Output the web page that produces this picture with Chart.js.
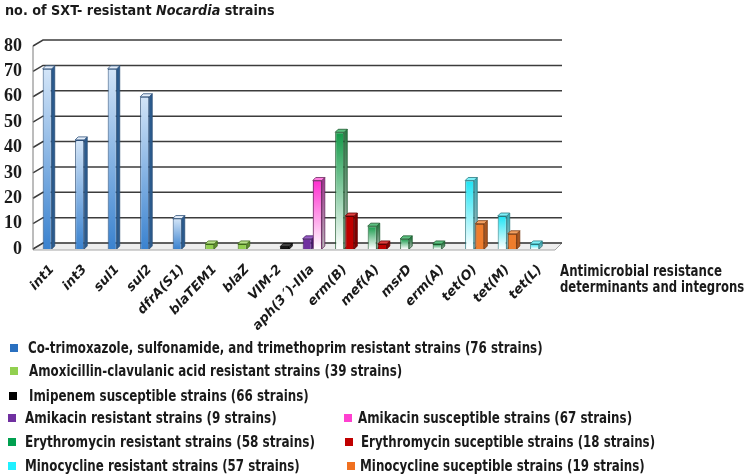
<!DOCTYPE html>
<html>
<head>
<meta charset="utf-8">
<script src="https://cdn.jsdelivr.net/npm/chart.js@4.4.1/dist/chart.umd.min.js"></script>
<style>
  body { margin: 0; background: #fff; }
  #wrap { position: relative; width: 746px; height: 476px; overflow: hidden; }
  canvas { position: absolute; left: 0; top: 0; }
  .txt { position: absolute; white-space: nowrap; font-family: "DejaVu Sans", sans-serif; font-weight: bold;
         color: #1a1a1a; line-height: 1; transform-origin: 0 50%; }
  .sq { position: absolute; width: 8px; height: 8px; }
</style>
</head>
<body>
<div id="wrap">
  <canvas id="chart" width="746" height="476"></canvas>
  <div class="txt fit" data-w="270" style="left:5px;top:10px;font-size:14px">no. of SXT- resistant <i>Nocardia</i> strains</div>
  <div class="txt fit" data-w="162" style="left:560px;top:271px;font-size:15px">Antimicrobial resistance</div>
  <div class="txt fit" data-w="184" style="left:560px;top:287px;font-size:15px">determinants and integrons</div>
  <div id="legend"></div>
</div>
<script>
// categories (x axis)
const categories = ["int1", "int3", "sul1", "sul2", "dfrA(S1)", "blaTEM1", "blaZ", "VIM-2",
  "aph(3´)-IIIa", "erm(B)", "mef(A)", "msrD", "erm(A)", "tet(O)", "tet(M)", "tet(L)"];

// no. of strains per series (null = no bar)
const cotrimoxazoleR = [71, 43, 71, 60, 12, null, null, null, null, null, null, null, null, null, null, null];
const amoxClavR      = [null, null, null, null, null, 2, 2, null, null, null, null, null, null, null, null, null];
const imipenemS      = [null, null, null, null, null, null, null, 1, null, null, null, null, null, null, null, null];
const amikacinR      = [null, null, null, null, null, null, null, null, 4, null, null, null, null, null, null, null];
const amikacinS      = [null, null, null, null, null, null, null, null, 27, null, null, null, null, null, null, null];
const erythromycinR  = [null, null, null, null, null, null, null, null, null, 46, 9, 4, 2, null, null, null];
const erythromycinS  = [null, null, null, null, null, null, null, null, null, 13, 2, null, null, null, null, null];
const minocyclineR   = [null, null, null, null, null, null, null, null, null, null, null, null, null, 27, 13, 2];
const minocyclineS   = [null, null, null, null, null, null, null, null, null, null, null, null, null, 10, 6, null];

const seriesLabels = [
  "Co-trimoxazole, sulfonamide, and trimethoprim resistant strains (76 strains)",
  "Amoxicillin-clavulanic acid resistant strains (39 strains)",
  "Imipenem susceptible strains (66 strains)",
  "Amikacin resistant strains  (9 strains)",
  "Amikacin susceptible strains (67 strains)",
  "Erythromycin resistant strains  (58 strains)",
  "Erythromycin suceptible strains (18 strains)",
  "Minocycline resistant strains (57 strains)",
  "Minocycline suceptible strains (19 strains)"
];
const seriesData = [cotrimoxazoleR, amoxClavR, imipenemS, amikacinR, amikacinS,
  erythromycinR, erythromycinS, minocyclineR, minocyclineS];

// look of each series: front gradient (top -> bottom), side, top face, border, legend swatch
const styles = [
  { top: "#d3e5f8", bottom: "#3a82cf", side: "#2b5b8e", sideB: "#2b5b8e", cap: "#e4eefa", border: "#2c4f78", key: "#2a70c0", stack: "a" },
  { top: "#92d050", bottom: "#92d050", side: "#5f8f2e", sideB: "#5f8f2e", cap: "#b8e08a", border: "#3f6a1a", key: "#92d050", stack: "a" },
  { top: "#111111", bottom: "#111111", side: "#333333", sideB: "#333333", cap: "#444444", border: "#000000", key: "#000000", stack: "b" },
  { top: "#7030a0", bottom: "#7030a0", side: "#4a1a70", sideB: "#4a1a70", cap: "#9a60c8", border: "#3d1560", key: "#7030a0", stack: "a" },
  { top: "#ff2fd0", bottom: "#ffffff", side: "#a03a90", sideB: "#b8b8b8", cap: "#ff80e0", border: "#6b2a60", key: "#ff40d0", stack: "b" },
  { top: "#139a48", bottom: "#ffffff", side: "#2a7a45", sideB: "#b8b8b8", cap: "#5cc080", border: "#1f5a30", key: "#00a050", stack: "a" },
  { top: "#c00000", bottom: "#c00000", side: "#800000", sideB: "#800000", cap: "#e04040", border: "#600000", key: "#c00000", stack: "b" },
  { top: "#1de4f4", bottom: "#ffffff", side: "#3aaab5", sideB: "#b8b8b8", cap: "#7ff0f8", border: "#2a7a80", key: "#20f0ff", stack: "a" },
  { top: "#ef7d2d", bottom: "#ef7d2d", side: "#a85520", sideB: "#a85520", cap: "#f5a060", border: "#7a3a10", key: "#f07020", stack: "b" }
];

// legend layout (row centre y, swatch x, text x, text width)
const legendPos = [
  [348, 10, 28, 515], [371, 10, 29, 373], [396, 9, 29, 280],
  [418, 8, 25, 252], [418, 344, 358, 274],
  [442, 8, 25, 290], [442, 345, 361, 294],
  [466, 8, 25, 275], [466, 347, 360, 285]
];

function frontFill(i) {
  return (c) => {
    const st = styles[i];
    const chart = c.chart;
    if (!chart.chartArea || !c.parsed || c.parsed.y == null) return st.top;
    const y = chart.scales.y;
    const g = chart.ctx.createLinearGradient(0, y.getPixelForValue(c.parsed.y), 0, y.getPixelForValue(0));
    g.addColorStop(0, st.top);
    g.addColorStop(1, st.bottom);
    return g;
  };
}

const datasets = seriesData.map((d, i) => ({
  label: seriesLabels[i],
  data: d,
  stack: styles[i].stack,
  backgroundColor: frontFill(i),
  borderColor: styles[i].border,
  borderWidth: 1
}));

const DEPTH = 3;

// back wall, grid lines and floor in fake 3D
const walls = {
  id: "walls",
  beforeDatasetsDraw(chart) {
    const { ctx, chartArea: a, scales: { y } } = chart;
    const fx = a.left - 3, bx = a.left + 7, ex = a.right + 6, dy = -6;
    const y0 = y.getPixelForValue(0);
    ctx.save();
    // floor
    ctx.beginPath();
    ctx.moveTo(fx, y0);
    ctx.lineTo(bx, y0 + dy);
    ctx.lineTo(ex, y0 + dy);
    ctx.lineTo(a.right - 1, y0 + 1);
    ctx.lineTo(fx, y0 + 1);
    ctx.closePath();
    ctx.fillStyle = "#eeeeee";
    ctx.fill();
    ctx.strokeStyle = "#a6a6a6";
    ctx.lineWidth = 1;
    ctx.stroke();
    // grid lines on the back wall
    ctx.strokeStyle = "#3c3c3c";
    ctx.lineWidth = 1.5;
    y.ticks.forEach(t => {
      const yy = y.getPixelForValue(t.value);
      ctx.beginPath();
      ctx.moveTo(fx, yy);
      ctx.lineTo(bx, yy + dy);
      ctx.lineTo(ex, yy + dy);
      ctx.stroke();
    });
    // front value axis
    ctx.beginPath();
    ctx.moveTo(fx, y.getPixelForValue(80));
    ctx.lineTo(fx, y0);
    ctx.strokeStyle = "#7a7a7a";
    ctx.lineWidth = 1;
    ctx.stroke();
    ctx.restore();
  }
};

function drawFaces(ctx, el, st) {
  const { x, y, base, width } = el;
  const l = x - width / 2, r = x + width / 2;
  ctx.lineWidth = 0.8;
  ctx.strokeStyle = st.border;
  // side
  ctx.beginPath();
  ctx.moveTo(r, y);
  ctx.lineTo(r + DEPTH, y - DEPTH);
  ctx.lineTo(r + DEPTH, base - DEPTH);
  ctx.lineTo(r, base);
  ctx.closePath();
  const g = ctx.createLinearGradient(0, y, 0, base);
  g.addColorStop(0, st.side);
  g.addColorStop(1, st.sideB);
  ctx.fillStyle = g;
  ctx.fill();
  ctx.stroke();
  // top
  ctx.beginPath();
  ctx.moveTo(l, y);
  ctx.lineTo(l + DEPTH, y - DEPTH);
  ctx.lineTo(r + DEPTH, y - DEPTH);
  ctx.lineTo(r, y);
  ctx.closePath();
  ctx.fillStyle = st.cap;
  ctx.fill();
  ctx.stroke();
}

// side and top faces: left slot first, then right slot columns are laid over it
const columns3d = {
  id: "columns3d",
  afterDatasetsDraw(chart) {
    const ctx = chart.ctx;
    ["a", "b"].forEach(slot => {
      chart.data.datasets.forEach((ds, di) => {
        if (styles[di].stack !== slot) return;
        const meta = chart.getDatasetMeta(di);
        meta.data.forEach((el, i) => {
          if (ds.data[i] == null) return;
          ctx.save();
          if (slot === "b") el.draw(ctx, chart.chartArea);
          drawFaces(ctx, el, styles[di]);
          ctx.restore();
        });
      });
    });
  }
};

new Chart(document.getElementById("chart"), {
  type: "bar",
  data: { labels: categories, datasets: datasets },
  plugins: [walls, columns3d],
  options: {
    responsive: false,
    animation: false,
    layout: { padding: { top: 46, right: 190, bottom: 0, left: 0 } },
    datasets: { bar: { categoryPercentage: 0.62, barPercentage: 0.9 } },
    plugins: { legend: { display: false }, tooltip: { enabled: false } },
    scales: {
      x: {
        grid: { display: false },
        border: { display: false },
        ticks: {
          autoSkip: false, minRotation: 47, maxRotation: 47, padding: 5, color: "#1a1a1a",
          font: { family: "DejaVu Sans", size: 13, weight: "bold", style: "italic" }
        },
        afterFit: (s) => { s.height = 227; }
      },
      y: {
        stacked: true,
        min: 0,
        max: 80,
        grid: { display: false },
        border: { display: false },
        ticks: {
          stepSize: 10, padding: 6, color: "#1a1a1a",
          font: { family: "'Liberation Serif', 'Times New Roman', serif", size: 18, weight: "bold" }
        },
        afterFit: (s) => { s.width = 36; }
      }
    }
  }
});

// HTML legend from the datasets
const legend = document.getElementById("legend");
datasets.forEach((ds, i) => {
  const [cy, sx, tx, w] = legendPos[i];
  const sq = document.createElement("div");
  sq.className = "sq";
  sq.style.left = sx + "px";
  sq.style.top = (cy - 4) + "px";
  sq.style.background = styles[i].key;
  legend.appendChild(sq);
  const t = document.createElement("div");
  t.className = "txt fit";
  t.dataset.w = w;
  t.style.left = tx + "px";
  t.style.top = cy + "px";
  t.style.fontSize = "15px";
  t.textContent = ds.label;
  legend.appendChild(t);
});

// squeeze text to the widths seen in the figure
document.querySelectorAll(".fit").forEach(el => {
  const k = +el.dataset.w / el.offsetWidth;
  el.style.transform = "translateY(-50%) scaleX(" + k + ")";
});
</script>
</body>
</html>
